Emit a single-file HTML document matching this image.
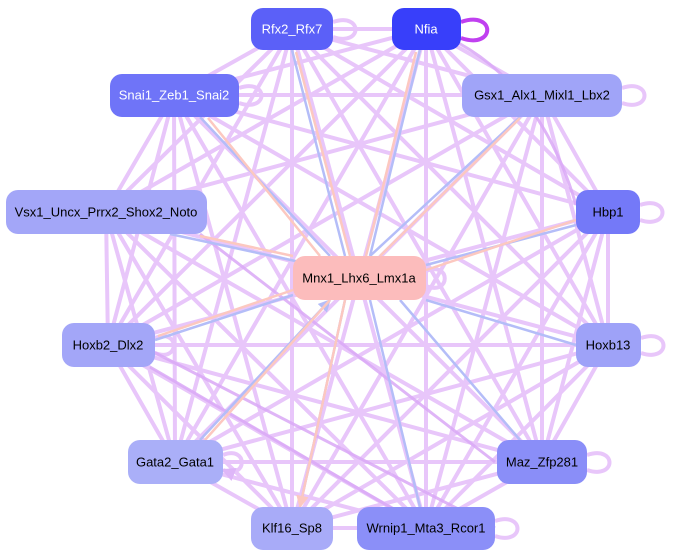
<!DOCTYPE html>
<html><head><meta charset="utf-8"><style>
html,body{margin:0;padding:0;background:#fff;width:676px;height:560px;overflow:hidden}
svg{display:block}
text{font-family:"Liberation Sans",sans-serif;font-size:13px;text-anchor:middle;dominant-baseline:central}
</style></head><body>
<svg width="676" height="560" viewBox="0 0 676 560">
<defs>
<marker id="ap" markerWidth="3.5" markerHeight="3.5" refX="3" refY="1.75" orient="auto" markerUnits="strokeWidth"><path d="M0,0L3.5,1.75L0,3.5z" fill="#deb6f8"/></marker>
<marker id="ab" markerWidth="5" markerHeight="5" refX="4.5" refY="2.5" orient="auto" markerUnits="strokeWidth"><path d="M0,0L5,2.5L0,5z" fill="#b4bdf8"/></marker>
<marker id="ak" markerWidth="5" markerHeight="5" refX="4.5" refY="2.5" orient="auto" markerUnits="strokeWidth"><path d="M0,0L5,2.5L0,5z" fill="#fcc8c0"/></marker>
</defs>
<g stroke="#e8c6fa" stroke-width="4" fill="none" marker-end="url(#ap)">
<path d="M292,29L174,95M292,29L542,95M292,29L106,212M292,29L608,212M292,29L108,345M292,29L608,345M292,29L175,462M292,29L542,462M292,29L292,528M292,29L426,528"/>
<path d="M426,29L174,95M426,29L542,95M426,29L106,212M426,29L608,212M426,29L108,345M426,29L608,345M426,29L175,462M426,29L542,462M426,29L292,528M426,29L426,528M426,29L292,29"/>
<path d="M174,95L542,95M174,95L106,212M174,95L608,212M174,95L108,345M174,95L608,345M174,95L175,462M174,95L542,462M174,95L292,528M174,95L426,528"/>
<path d="M542,95L106,212M542,95L608,212M542,95L108,345M542,95L608,345M542,95L175,462M542,95L542,462M542,95L292,528M542,95L426,528"/>
<path d="M106,212L108,345M106,212L608,345M106,212L175,462M106,212L542,462M106,212L292,528M106,212L426,528"/>
<path d="M608,212L108,345M608,212L608,345M608,212L175,462M608,212L542,462M608,212L292,528M608,212L426,528"/>
<path d="M108,345L608,345M108,345L175,462M108,345L542,462M108,345L292,528M108,345L426,528"/>
<path d="M608,345L175,462M608,345L542,462M608,345L292,528M608,345L426,528"/>
<path d="M175,462L542,462M175,462L292,528M175,462L426,528M542,462L292,528M542,462L426,528M292,528L426,528"/>
<path d="M333,22c30,-10 30,25 0,15M239,88c30,-10 30,25 0,15M622,88c30,-10 30,25 0,15M640,205c30,-10 30,25 0,15M641,338c30,-10 30,25 0,15M587,455c30,-10 30,25 0,15M495,521c30,-10 30,25 0,15M426,271c25,-10 25,25 0,15M155,338c25,-10 25,25 0,15M223,455c25,-10 25,25 0,15"/>
</g>
<g stroke="#d9a8f6" stroke-width="3" fill="none" opacity="0.85">
<path d="M150,367L426,528M200,234L495,462M140,345L495,528M426,29C520,60 560,150 576,205"/>
</g>
<path d="M461,22c35,-12 35,28 0,16" stroke="#c040f0" stroke-width="4" fill="none"/>
<g stroke="#b4bdf8" stroke-width="2.5" fill="none" marker-end="url(#ab)">
<path d="M292,50L345,256M420,50L370,256M200,117L330,256M520,117L370,256M170,234L300,262M576,225L426,265M155,340L293,295M576,345L426,300M520,440L400,300M300,507L345,300M420,507L370,300M200,440L330,300"/>
</g>
<g stroke="#fcc8c0" stroke-width="2.5" fill="none" marker-end="url(#ak)">
<path d="M350,256L296,52M366,256L416,52M320,256L208,118M380,256L520,118M293,256L200,236M426,270L576,220M293,290L158,336M330,300L205,440M345,300L300,507"/>
</g>
<g font-size="13">
<rect x="251" y="8" width="82" height="42" rx="12" fill="#5b60f8"/><text x="292" y="29" fill="#fff">Rfx2_Rfx7</text>
<rect x="392" y="8" width="69" height="42" rx="12" fill="#383ffa"/><text x="426" y="29" fill="#fff">Nfia</text>
<rect x="110" y="74" width="129" height="43" rx="12" fill="#6f74f8"/><text x="174" y="95" fill="#fff">Snai1_Zeb1_Snai2</text>
<rect x="462" y="74" width="160" height="43" rx="12" fill="#a0a4f8"/><text x="542" y="95" fill="#000">Gsx1_Alx1_Mixl1_Lbx2</text>
<rect x="6" y="190" width="201" height="44" rx="12" fill="#a3a6f8"/><text x="106" y="212" fill="#000">Vsx1_Uncx_Prrx2_Shox2_Noto</text>
<rect x="576" y="190" width="64" height="44" rx="12" fill="#7479f8"/><text x="608" y="212" fill="#000">Hbp1</text>
<rect x="293" y="256" width="133" height="44" rx="12" fill="#fcbcbc"/><text x="359" y="278" fill="#000">Mnx1_Lhx6_Lmx1a</text>
<rect x="62" y="323" width="93" height="44" rx="12" fill="#a3a6f8"/><text x="108" y="345" fill="#000">Hoxb2_Dlx2</text>
<rect x="576" y="323" width="65" height="44" rx="12" fill="#9ea2f8"/><text x="608" y="345" fill="#000">Hoxb13</text>
<rect x="128" y="440" width="95" height="44" rx="12" fill="#aaaff8"/><text x="175" y="462" fill="#000">Gata2_Gata1</text>
<rect x="497" y="440" width="90" height="44" rx="12" fill="#8a8ef8"/><text x="542" y="462" fill="#000">Maz_Zfp281</text>
<rect x="251" y="507" width="82" height="43" rx="12" fill="#a8abf8"/><text x="292" y="528" fill="#000">Klf16_Sp8</text>
<rect x="357" y="507" width="138" height="43" rx="12" fill="#8b8ff8"/><text x="426" y="528" fill="#000">Wrnip1_Mta3_Rcor1</text>
</g>
</svg>
</body></html>
